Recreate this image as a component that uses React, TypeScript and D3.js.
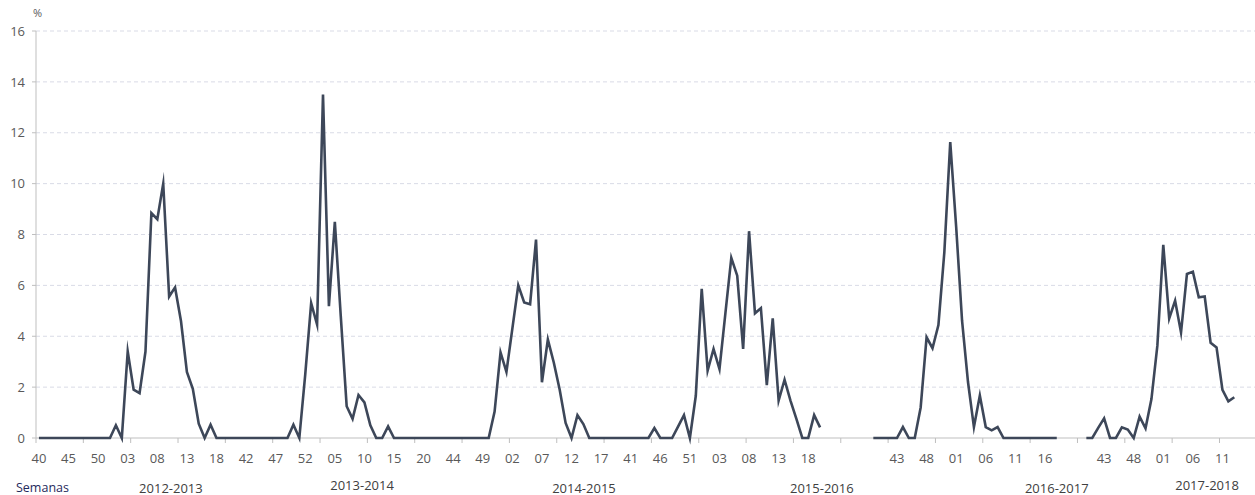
import React from "react";
import * as d3 from "d3";

// ---------- data ----------
const seasonNames = ["2012-2013", "2013-2014", "2014-2015", "2015-2016", "2016-2017", "2017-2018"];

const pad = (n: number) => (n < 10 ? "0" + n : String(n));
const weekRange = (a: number, b: number) => d3.range(a, b + 1).map(pad);

const weeks2012_13 = weekRange(40, 52).concat(weekRange(1, 20));
const weeks2013_14 = weekRange(40, 52).concat(weekRange(1, 20));
const weeks2014_15 = weekRange(40, 52).concat(weekRange(1, 20));
const weeks2015_16 = weekRange(40, 53).concat(weekRange(1, 20));
const weeks2016_17 = weekRange(39, 52).concat(weekRange(1, 20));
const weeks2017_18 = weekRange(40, 52).concat(weekRange(1, 16));
const gapAfter2015_16 = 8; // empty categories
const gapAfter2016_17 = 2;

const values2012_13: (number | null)[] = [
  0, 0, 0, 0, 0, 0, 0, 0, 0, 0, 0, 0, 0,
  0.5, 0, 3.4, 1.9, 1.76, 3.4, 8.84, 8.6, 10.0, 5.56, 5.92, 4.6, 2.6, 1.93, 0.56, 0, 0.52, 0, 0, 0,
];
const values2013_14: (number | null)[] = [
  0, 0, 0, 0, 0, 0, 0, 0, 0, 0, 0.52, 0, 2.5,
  5.3, 4.46, 13.5, 5.18, 8.5, 4.8, 1.25, 0.75, 1.69, 1.4, 0.5, 0, 0, 0.46, 0, 0, 0, 0, 0, 0,
];
const values2014_15: (number | null)[] = [
  0, 0, 0, 0, 0, 0, 0, 0, 0, 0, 0, 1.04, 3.37,
  2.6, 4.3, 6.0, 5.33, 5.26, 7.8, 2.19, 3.87, 2.97, 1.9, 0.59, 0, 0.9, 0.55, 0, 0, 0, 0, 0, 0,
];
const values2015_16: (number | null)[] = [
  0, 0, 0, 0, 0, 0.39, 0, 0, 0, 0.45, 0.9, 0, 1.66, 5.86,
  2.65, 3.5, 2.71, 4.9, 7.08, 6.38, 3.5, 8.13, 4.9, 5.1, 2.08, 4.7, 1.47, 2.29, 1.47, 0.75, 0, 0, 0.9, 0.42,
];
const values2016_17: (number | null)[] = [
  0, 0, 0, 0, 0, 0.43, 0, 0, 1.2, 3.96, 3.53, 4.44, 7.3, 11.63,
  8.3, 4.6, 2.2, 0.43, 1.67, 0.43, 0.3, 0.43, 0, 0, 0, 0, 0, 0, 0, 0, 0, 0, null, null,
];
const values2017_18: (number | null)[] = [
  0, 0, 0.4, 0.77, 0, 0, 0.42, 0.33, 0, 0.84, 0.38, 1.53, 3.63,
  7.59, 4.7, 5.4, 4.15, 6.45, 6.54, 5.53, 5.56, 3.74, 3.56, 1.89, 1.44, 1.6, null, null, null,
];

const yTicks = [0, 2, 4, 6, 8, 10, 12, 14, 16];
const axisTitleX = "Semanas";
const axisTitleY = "%";

// ---------- build category table ----------
const blanks = (n: number) => d3.range(n).map(() => "");
const nulls = (n: number) => d3.range(n).map(() => null as number | null);

const categoryLabels: string[] = [
  ...weeks2012_13, ...weeks2013_14, ...weeks2014_15, ...weeks2015_16,
  ...blanks(gapAfter2015_16), ...weeks2016_17, ...blanks(gapAfter2016_17), ...weeks2017_18,
];
const seriesValues: (number | null)[] = [
  ...values2012_13, ...values2013_14, ...values2014_15, ...values2015_16,
  ...nulls(gapAfter2015_16), ...values2016_17, ...nulls(gapAfter2016_17), ...values2017_18,
];

// layout (category positions of the season captions)
const seasonCaptionAt = [22.3, 54.6, 92.1, 132.3, 172, 197.4];
const seasonCaptionRaised = [false, true, false, false, false, true];

const W = 1255;
const H = 495;
const left = 36;
const right = 1255;
const top = 31;
const bottom = 438;

export default function App() {
  const idx = categoryLabels.map((_, i) => String(i));
  const x = d3.scaleBand<string>().domain(idx).range([left, right]).padding(0);
  const bw = x.bandwidth();
  const cx = (i: number) => left + (i + 0.5) * bw;
  const y = d3.scaleLinear().domain([0, 16]).range([bottom, top]);

  const line = d3
    .line<number | null>()
    .defined((d) => d != null)
    .x((_, i) => (x(String(i)) as number) + bw / 2)
    .y((d) => y(d as number));

  const tickEvery = 8;
  const labelEvery = 5;
  const tickIdx = d3.range(0, categoryLabels.length + 1, tickEvery);
  const labelIdx = d3.range(0, categoryLabels.length, labelEvery).filter(
    (i) => categoryLabels[i] !== "" && cx(i) + 8 < right
  );

  const font = "'Open Sans', 'Noto Sans', sans-serif";

  return (
    <div style={{ position: "absolute", left: 0, top: 0 }}>
      <svg width={W} height={H} style={{ display: "block", background: "#fff" }}>
        {/* gridlines */}
        {yTicks.filter((t) => t > 0).map((t) => (
          <line key={t} x1={left} x2={right} y1={y(t)} y2={y(t)} stroke="#d9dbe6" strokeWidth={1} strokeDasharray="4 3" />
        ))}
        {/* y axis */}
        <line x1={left} x2={left} y1={top} y2={bottom} stroke="#bfbfbf" strokeWidth={1} />
        {yTicks.map((t) => (
          <g key={t}>
            <line x1={left - 4} x2={left} y1={y(t)} y2={y(t)} stroke="#bfbfbf" />
            <text x={25} y={y(t)} dy="0.36em" textAnchor="end" fontFamily={font} fontSize={13} fill="#595959">
              {t}
            </text>
          </g>
        ))}
        <text x={33} y={17} fontFamily={font} fontSize={11} fill="#595959">{axisTitleY}</text>
        {/* x axis */}
        <line x1={left} x2={right} y1={bottom} y2={bottom} stroke="#bfbfbf" strokeWidth={1} />
        {tickIdx.map((i) => (
          <line key={i} x1={left + i * bw} x2={left + i * bw} y1={bottom} y2={bottom + 5} stroke="#bfbfbf" />
        ))}
        {labelIdx.map((i) => (
          <text key={i} x={cx(i)} y={463} textAnchor="middle" fontFamily={font} fontSize={13} fill="#595959">
            {categoryLabels[i]}
          </text>
        ))}
        {/* series */}
        <path d={line(seriesValues) || ""} fill="none" stroke="#3d4759" strokeWidth={2.6} strokeLinejoin="miter" strokeMiterlimit={10} />
        {/* captions */}
        <text x={16} y={492} fontFamily={font} fontSize={12.5} fill="#1f2a5c">{axisTitleX}</text>
        {seasonNames.map((s, k) => (
          <text key={s} x={cx(seasonCaptionAt[k])} y={seasonCaptionRaised[k] ? 490 : 492.5} textAnchor="middle" fontFamily={font} fontSize={13} fill="#404040">
            {s}
          </text>
        ))}
      </svg>
    </div>
  );
}
